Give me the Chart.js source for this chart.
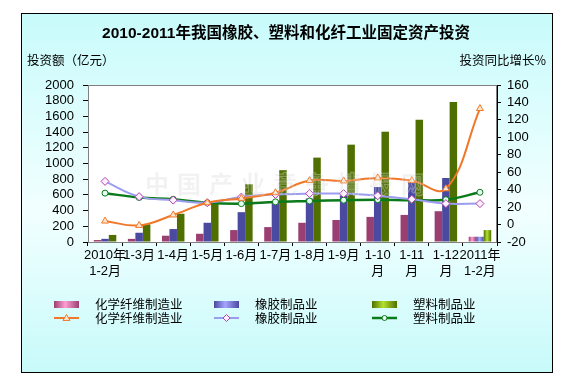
<!DOCTYPE html>
<html><head><meta charset="utf-8">
<script src="https://cdn.jsdelivr.net/npm/chart.js@4"></script>
<style>html,body{margin:0;padding:0;background:#fff}#wrap{width:573px;height:380px;position:relative}canvas{display:block}</style>
</head><body><div id="wrap"><canvas id="c" width="573" height="380"></canvas></div>
<script>
const categories = [["2010年","1-2月"],"1-3月","1-4月","1-5月","1-6月","1-7月","1-8月","1-9月",["1-10","月"],["1-11","月"],["1-12","月"],["2011年","1-2月"]];
const fiberInvest   = [25, 40, 80, 105, 152, 190, 245, 280, 320, 345, 392, 67];
const rubberInvest  = [40, 118, 165, 245, 380, 510, 553, 616, 700, 760, 815, 67];
const plasticInvest = [90, 225, 360, 490, 735, 915, 1075, 1240, 1405, 1557, 1785, 152];
const fiberGrowth   = [4, -1, 11, 25, 30, 36.5, 50.5, 50, 53.5, 50.5, 41, 133];
const rubberGrowth  = [49.5, 32, 28, 25, 31.5, 34.5, 35.5, 35.5, 33, 29, 24, 24];
const plasticGrowth = [36, 31, 29, 25, 24, 26, 27, 28, 28.5, 28, 28.5, 37];
const leftTicks = {min: 0, max: 2000, step: 200};
const rightTicks = {min: -20, max: 160, step: 20};
const names = ["化学纤维制造业", "橡胶制品业", "塑料制品业"];
const titleText = "2010-2011年我国橡胶、塑料和化纤工业固定资产投资";
const leftTitle = "投资额（亿元）";
const rightTitle = "投资同比增长%";
const watermark = "中国产业竞争情报网";

const FONT = "Arial, 'Liberation Sans', 'Noto Sans CJK SC', sans-serif";
const CJK = "'Noto Sans CJK SC', 'Liberation Sans', sans-serif";
const barShades = [
  {dark: '#9a3f72', light: '#ff9fd0'},
  {dark: '#4a4aa0', light: '#a6a6ff'},
  {dark: '#4f7000', light: '#b4e030'}
];
const lineStyles = [
  {color: '#f07828', point: 'triangle', fill: '#ffe6cc', pborder: '#f07828', r: 4, w: 2},
  {color: '#9c9cf0', point: 'rectRot', fill: '#fff0ff', pborder: '#b040b0', r: 4, w: 2},
  {color: '#0a7a1a', point: 'circle', fill: '#e6fff4', pborder: '#0a7a1a', r: 3, w: 2.5}
];

function hGrad(ctx, x0, x1, s) {
  const g = ctx.createLinearGradient(x0, 0, x1, 0);
  g.addColorStop(0, s.dark);
  g.addColorStop(0.45, s.light);
  g.addColorStop(1, s.dark);
  return g;
}

const deco = {
  id: 'deco',
  beforeDraw(chart) {
    const ctx = chart.ctx, a = chart.chartArea;
    ctx.save();
    ctx.fillStyle = '#fff';
    ctx.fillRect(0, 0, chart.width, chart.height);
    const g = ctx.createLinearGradient(0, 13, 0, 372);
    g.addColorStop(0, '#c8fbfb');
    g.addColorStop(0.55, '#f2ffff');
    g.addColorStop(1, '#c8fafa');
    ctx.fillStyle = g;
    ctx.fillRect(21, 13, 531, 359);
    ctx.strokeStyle = '#000';
    ctx.lineWidth = 1;
    ctx.strokeRect(21.5, 13.5, 531, 359);
    ctx.fillStyle = '#fff';
    ctx.fillRect(a.left, a.top, a.right - a.left, a.bottom - a.top);
    ctx.fillStyle = '#000';
    ctx.textBaseline = 'middle';
    ctx.textAlign = 'center';
    ctx.font = "bold 15.5px " + FONT;
    ctx.fillText(titleText, 286, 34);
    ctx.font = "12.5px " + CJK;
    ctx.textAlign = 'left';
    ctx.fillText(leftTitle, 27, 60);
    ctx.textAlign = 'right';
    ctx.fillText(rightTitle, 546, 60);
    ctx.restore();
  },
  beforeDatasetsDraw(chart) {
    const ctx = chart.ctx;
    for (let i = 0; i < 3; i++) {
      const meta = chart.getDatasetMeta(i);
      meta.data.forEach(el => {
        el.options.backgroundColor = hGrad(ctx, el.x - el.width / 2, el.x + el.width / 2, barShades[i]);
      });
    }
  },
  afterDatasetsDraw(chart) {
    const ctx = chart.ctx, a = chart.chartArea;
    ctx.save();
    ctx.font = "bold 24px " + CJK;
    ctx.textBaseline = 'middle';
    ctx.textAlign = 'left';
    ctx.fillStyle = 'rgba(170,170,170,0.16)';
    ctx.strokeStyle = 'rgba(255,255,255,0.3)';
    ctx.lineWidth = 1;
    [...watermark].forEach((ch, i) => {
      ctx.fillText(ch, 145 + i * 32, 184);
      ctx.strokeText(ch, 145 + i * 32, 184);
    });
    ctx.strokeStyle = '#808080';
    ctx.strokeRect(a.left + 0.5, a.top + 0.5, a.right - a.left - 1, a.bottom - a.top);
    ctx.restore();
  },
  afterDraw(chart) {
    const ctx = chart.ctx;
    const cols = [54, 214, 372];
    ctx.save();
    ctx.font = "12.5px " + CJK;
    ctx.textBaseline = 'middle';
    ctx.textAlign = 'left';
    for (let i = 0; i < 3; i++) {
      const x = cols[i];
      ctx.fillStyle = hGrad(ctx, x, x + 25, barShades[i]);
      ctx.fillRect(x, 301, 25, 7);
      ctx.fillStyle = '#000';
      ctx.fillText(chart.data.datasets[i].label, x + 41, 304);
      const ls = lineStyles[i];
      ctx.strokeStyle = ls.color;
      ctx.lineWidth = ls.w;
      ctx.beginPath();
      ctx.moveTo(x, 318); ctx.lineTo(x + 25, 318);
      ctx.stroke();
      ctx.fillStyle = ls.fill;
      ctx.strokeStyle = ls.pborder;
      ctx.lineWidth = 1;
      const r = ls.r - 0.5, cx = x + 12.5, cy = 318;
      ctx.beginPath();
      if (ls.point === 'triangle') {
        ctx.moveTo(cx, cy - r); ctx.lineTo(cx + r, cy + r * 0.7); ctx.lineTo(cx - r, cy + r * 0.7); ctx.closePath();
      } else if (ls.point === 'rectRot') {
        ctx.moveTo(cx, cy - r); ctx.lineTo(cx + r, cy); ctx.lineTo(cx, cy + r); ctx.lineTo(cx - r, cy); ctx.closePath();
      } else {
        ctx.arc(cx, cy, r, 0, Math.PI * 2);
      }
      ctx.fill(); ctx.stroke();
      ctx.fillStyle = '#000';
      ctx.fillText(chart.data.datasets[i + 3].label, x + 41, 318);
    }
    ctx.restore();
  }
};

const barSets = [fiberInvest, rubberInvest, plasticInvest].map((d, i) => ({
  type: 'bar', label: names[i], data: d, yAxisID: 'y', order: 2,
  backgroundColor: barShades[i].light, borderWidth: 0,
  categoryPercentage: 0.66, barPercentage: 1.0
}));
const lineSets = [fiberGrowth, rubberGrowth, plasticGrowth].map((d, i) => ({
  type: 'line', label: names[i], data: d, yAxisID: 'y1', order: 1,
  borderColor: lineStyles[i].color, borderWidth: lineStyles[i].w, tension: 0.4,
  pointStyle: lineStyles[i].point, pointRadius: lineStyles[i].r,
  pointBackgroundColor: lineStyles[i].fill, pointBorderColor: lineStyles[i].pborder,
  pointBorderWidth: 1, fill: false
}));

new Chart(document.getElementById('c'), {
  data: {labels: categories, datasets: [...barSets, ...lineSets]},
  options: {
    responsive: false, animation: false, devicePixelRatio: 1,
    layout: {padding: {left: 21, right: 21, top: 85, bottom: 98}},
    plugins: {legend: {display: false}, title: {display: false}, tooltip: {enabled: false}},
    scales: {
      x: {
        type: 'category', offset: true,
        grid: {display: true, drawOnChartArea: false, offset: true, tickLength: 4, color: '#000'},
        border: {color: '#000'},
        ticks: {color: '#000', font: {size: 13, family: FONT}, maxRotation: 0, minRotation: 0, autoSkip: false, padding: 2},
        afterFit(s) { s.height = 40; }
      },
      y: {
        position: 'left', min: leftTicks.min, max: leftTicks.max,
        grid: {drawOnChartArea: false, tickLength: 5, color: '#000'},
        border: {color: '#000'},
        ticks: {stepSize: leftTicks.step, autoSkip: false, color: '#000', font: {size: 13, family: FONT}, padding: 9, callback: v => String(v)},
        afterFit(s) { s.width = 67; }
      },
      y1: {
        position: 'right', min: rightTicks.min, max: rightTicks.max,
        grid: {drawOnChartArea: false, tickLength: 4, color: '#000'},
        border: {color: '#000'},
        ticks: {stepSize: rightTicks.step, autoSkip: false, color: '#000', font: {size: 13, family: FONT}, padding: 6, callback: v => String(v)},
        afterFit(s) { s.width = 55; }
      }
    }
  },
  plugins: [deco]
});
</script>
</body></html>
